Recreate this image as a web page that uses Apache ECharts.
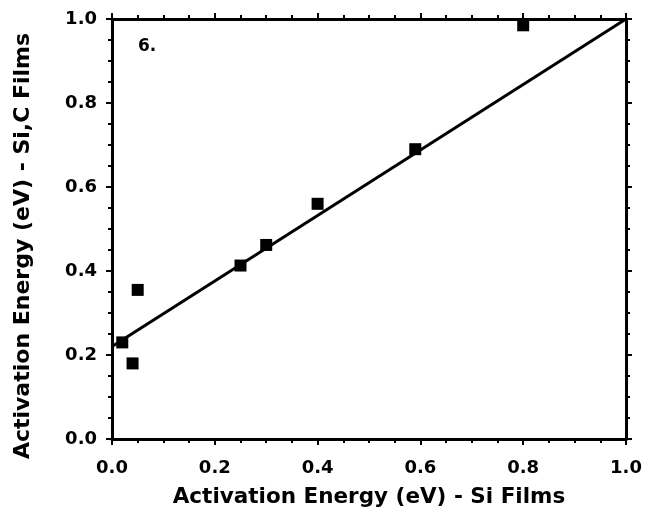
<!DOCTYPE html>
<html><head><meta charset="utf-8">
<script src="https://cdn.jsdelivr.net/npm/echarts@6/dist/echarts.min.js"></script>
<style>html,body{margin:0;padding:0;background:#fff}#c{width:648px;height:516px}</style>
</head><body><div id="c"></div>
<script>
const siX = [0.02, 0.04, 0.05, 0.25, 0.30, 0.40, 0.59, 0.80];
const sicY = [0.23, 0.18, 0.355, 0.413, 0.462, 0.56, 0.69, 0.985];
const fitX = [0, 1];
const fitY = [0.22, 1.0];
const xTicks = [0, 0.2, 0.4, 0.6, 0.8, 1.0];
const yTicks = [0, 0.2, 0.4, 0.6, 0.8, 1.0];
const xName = 'Activation Energy (eV) - Si Films';
const yName = 'Activation Energy (eV) - Si,C Films';
const panelLabel = '6.';

const font = '"DejaVu Sans", Arial, sans-serif';
const axisLine = {show: true, onZero: false, lineStyle: {color: '#000', width: 3}};
function mkAxis(pos, show, extra) {
  return Object.assign({
    type: 'value', min: 0, max: 1, interval: 0.2, position: pos,
    axisLine: axisLine,
    axisTick: {show: true, inside: false, length: 6, lineStyle: {color: '#000', width: 2}},
    minorTick: {show: true, splitNumber: 4, length: 4, lineStyle: {color: '#000', width: 2}},
    splitLine: {show: false},
    axisLabel: {show: show, color: '#000', fontFamily: font, fontWeight: 'bold', fontSize: 18,
      formatter: v => v.toFixed(1)}
  }, extra || {});
}
const chart = echarts.init(document.getElementById('c'));
chart.setOption({
  animation: false,
  grid: {left: 112, right: 22, top: 19, bottom: 77},
  xAxis: [
    mkAxis('bottom', true, {name: xName, nameLocation: 'middle', nameGap: 47,
      nameTextStyle: {color: '#000', fontFamily: font, fontWeight: 'bold', fontSize: 21.5},
      axisLabel: {show: true, color: '#000', fontFamily: font, fontWeight: 'bold', fontSize: 18, margin: 20, formatter: v => v.toFixed(1)}}),
    mkAxis('top', false)
  ],
  yAxis: [
    mkAxis('left', true, {name: yName, nameLocation: 'middle', nameGap: 78,
      nameTextStyle: {color: '#000', fontFamily: font, fontWeight: 'bold', fontSize: 22, padding: [0, 0, 0, -34]},
      axisLabel: {show: true, color: '#000', fontFamily: font, fontWeight: 'bold', fontSize: 18, margin: 15, formatter: v => v.toFixed(1)}}),
    mkAxis('right', false)
  ],
  graphic: [{type: 'text', left: 138, top: 38,
    style: {text: panelLabel, font: 'bold 17px "DejaVu Sans", sans-serif', fill: '#000'}}],
  series: [
    {type: 'line', data: fitX.map((x, i) => [x, fitY[i]]), showSymbol: false,
      lineStyle: {color: '#000', width: 3}, z: 2},
    {type: 'scatter', data: siX.map((x, i) => [x, sicY[i]]), symbol: 'rect', symbolSize: 12,
      itemStyle: {color: '#000', opacity: 1}, z: 3}
  ]
});
</script></body></html>
